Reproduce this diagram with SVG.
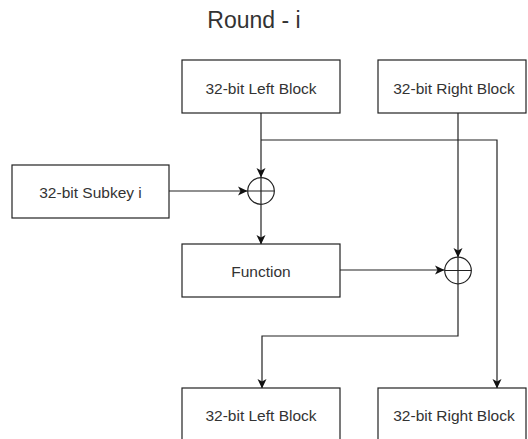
<svg xmlns="http://www.w3.org/2000/svg" width="528" height="439" viewBox="0 0 528 439">
  <defs>
    <marker id="arrow" markerUnits="userSpaceOnUse" markerWidth="10" markerHeight="10" viewBox="0 0 10 10" refX="9" refY="5" orient="auto">
      <path d="M0,0.5 L9.5,5 L0,9.5 L2.5,5 Z" fill="#111"/>
    </marker>
  </defs>
  <style>
    .box { fill: #ffffff; stroke: #222; stroke-width: 1.2; }
    .label { font-family: "Liberation Sans", Arial, sans-serif; font-size: 15.5px; fill: #333; text-anchor: middle; dominant-baseline: central; }
    .title { font-family: "Liberation Sans", Arial, sans-serif; font-size: 23px; fill: #333; text-anchor: middle; }
    .wire { fill: none; stroke: #222; stroke-width: 1.2; }
    .xor { fill: #ffffff; stroke: #222; stroke-width: 1.2; }
  </style>
  <rect width="528" height="439" fill="#ffffff"/>

  <text class="title" x="254" y="28">Round - i</text>

  <g id="connectors">
    <!-- left half into first XOR -->
    <path class="wire" d="M261,113 V177" marker-end="url(#arrow)"/>
    <!-- left half copied across to new right half -->
    <path class="wire" d="M261,140 H497 V388" marker-end="url(#arrow)"/>
    <!-- subkey into first XOR -->
    <path class="wire" d="M169,191 H247" marker-end="url(#arrow)"/>
    <!-- first XOR into function -->
    <path class="wire" d="M261,205 V244" marker-end="url(#arrow)"/>
    <!-- right half into second XOR -->
    <path class="wire" d="M458,113 V257" marker-end="url(#arrow)"/>
    <!-- function into second XOR -->
    <path class="wire" d="M340,270 H444" marker-end="url(#arrow)"/>
    <!-- second XOR to new left half -->
    <path class="wire" d="M458,284 V336 H262 V388" marker-end="url(#arrow)"/>
  </g>

  <g id="left-in">
    <rect class="box" x="182" y="60" width="158" height="53"/>
    <text class="label" x="261" y="88">32-bit Left Block</text>
  </g>
  <g id="right-in">
    <rect class="box" x="378" y="60" width="148" height="53"/>
    <text class="label" x="454" y="88">32-bit Right Block</text>
  </g>
  <g id="subkey">
    <rect class="box" x="12" y="165" width="157" height="53"/>
    <text class="label" x="90.5" y="192.5">32-bit Subkey i</text>
  </g>
  <g id="xor-1">
    <circle class="xor" cx="261" cy="191" r="13.3"/>
    <path class="wire" d="M247.7,191 H274.3 M261,177.7 V204.3"/>
  </g>
  <g id="function">
    <rect class="box" x="182" y="244" width="158" height="53"/>
    <text class="label" x="261" y="271.5">Function</text>
  </g>
  <g id="xor-2">
    <circle class="xor" cx="458" cy="270.5" r="13.3"/>
    <path class="wire" d="M444.7,270.5 H471.3 M458,257.2 V283.8"/>
  </g>
  <g id="left-out">
    <rect class="box" x="182" y="388" width="158" height="53"/>
    <text class="label" x="261" y="415.5">32-bit Left Block</text>
  </g>
  <g id="right-out">
    <rect class="box" x="378" y="388" width="148" height="53"/>
    <text class="label" x="454" y="415.5">32-bit Right Block</text>
  </g>
</svg>
